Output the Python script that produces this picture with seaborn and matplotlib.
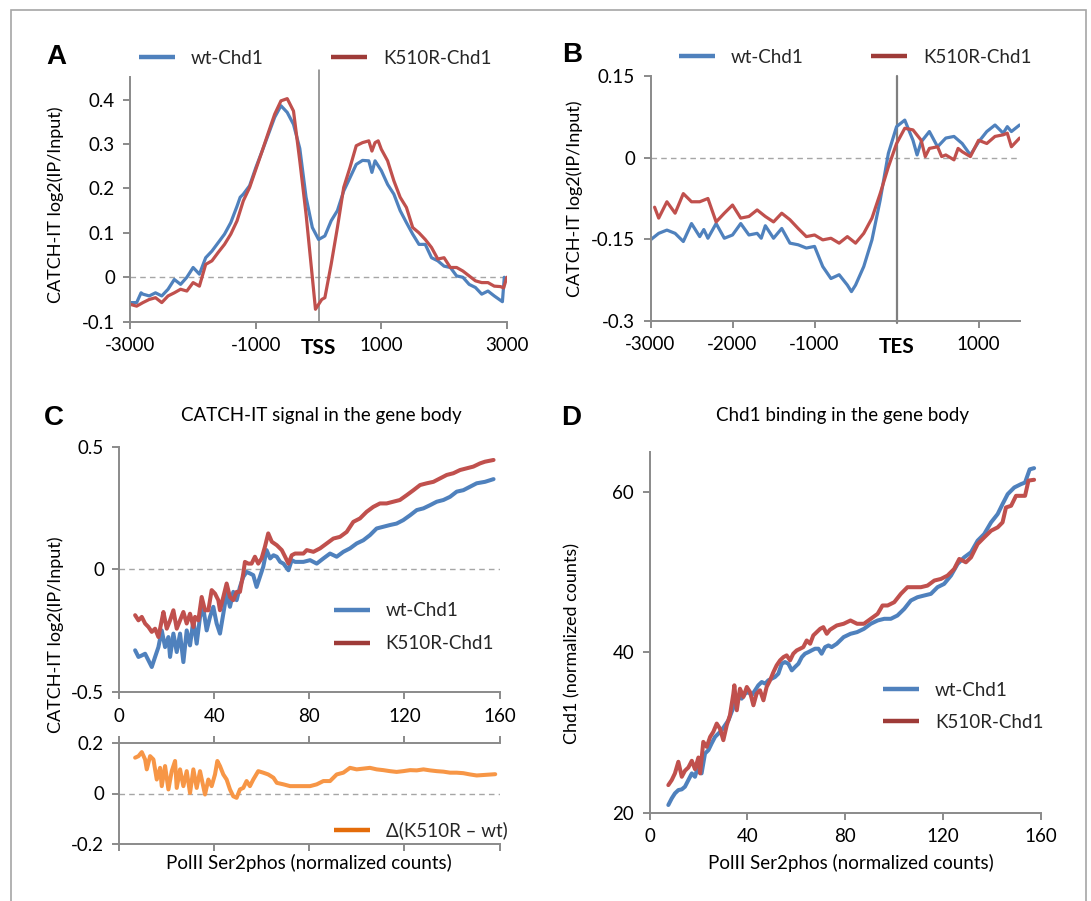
import matplotlib
matplotlib.use("Agg")
import matplotlib.pyplot as plt
import seaborn as sns
import pandas as pd
from matplotlib.lines import Line2D
from matplotlib.patches import Rectangle

# ---------------- data ----------------
# Panel A (around TSS)
a_wt_x = [-3000, -2900, -2830, -2800, -2700, -2600, -2500, -2400, -2300, -2200, -2100, -2000, -1900,
          -1800, -1700, -1600, -1500, -1400, -1300, -1250, -1200, -1100, -1000, -900, -800, -700, -600,
          -500, -400, -300, -200, -100, 0, 100, 200, 300, 400, 500, 600, 700, 800, 850, 900, 1000,
          1100, 1200, 1300, 1400, 1500, 1600, 1700, 1800, 1900, 2000, 2100, 2200, 2300, 2400, 2500,
          2600, 2700, 2800, 2930, 2960]
a_wt_y = [-0.057, -0.057, -0.035, -0.038, -0.042, -0.035, -0.042, -0.027, -0.005, -0.016, 0.0, 0.022,
          0.007, 0.044, 0.059, 0.078, 0.097, 0.123, 0.160, 0.180, 0.187, 0.206, 0.247, 0.284, 0.322,
          0.360, 0.386, 0.371, 0.344, 0.290, 0.180, 0.112, 0.085, 0.093, 0.127, 0.150, 0.194, 0.224,
          0.254, 0.263, 0.262, 0.236, 0.262, 0.240, 0.209, 0.187, 0.150, 0.123, 0.097, 0.074, 0.074,
          0.044, 0.037, 0.025, 0.022, 0.003, 0.0, -0.016, -0.023, -0.038, -0.031, -0.042, -0.055, 0.0]
a_k_x = [-3000, -2900, -2800, -2700, -2600, -2500, -2400, -2300, -2200, -2100, -2000, -1900, -1800,
         -1700, -1600, -1500, -1400, -1300, -1200, -1100, -1000, -900, -800, -700, -600, -500, -400,
         -300, -200, -100, -50, 0, 50, 100, 200, 300, 400, 500, 600, 700, 800, 850, 900, 950, 1000,
         1100, 1200, 1300, 1400, 1500, 1600, 1700, 1800, 1900, 2000, 2100, 2200, 2300, 2400, 2500,
         2600, 2700, 2800, 2900, 2950, 3000]
a_k_y = [-0.061, -0.065, -0.057, -0.050, -0.046, -0.057, -0.042, -0.035, -0.027, -0.031, -0.012, -0.020,
         0.029, 0.037, 0.056, 0.074, 0.097, 0.127, 0.172, 0.202, 0.243, 0.284, 0.326, 0.367, 0.397,
         0.402, 0.374, 0.262, 0.142, 0.0, -0.072, -0.061, -0.050, -0.046, 0.029, 0.112, 0.202, 0.247,
         0.296, 0.303, 0.307, 0.284, 0.303, 0.307, 0.288, 0.262, 0.217, 0.180, 0.157, 0.112, 0.100,
         0.085, 0.067, 0.041, 0.044, 0.022, 0.022, 0.014, 0.003, -0.008, -0.012, -0.012, -0.020,
         -0.021, -0.024, 0.0]

# Panel B (around TES)
b_wt_x = [-3000, -2900, -2800, -2700, -2600, -2500, -2400, -2350, -2300, -2200, -2100, -2000, -1900,
          -1800, -1700, -1650, -1600, -1500, -1400, -1300, -1200, -1100, -1000, -900, -800, -700,
          -600, -550, -500, -400, -300, -200, -100, 0, 100, 200, 250, 300, 400, 500, 600, 700, 800,
          900, 1000, 1100, 1200, 1300, 1350, 1400, 1500]
b_wt_y = [-0.151, -0.139, -0.133, -0.139, -0.154, -0.121, -0.145, -0.132, -0.148, -0.121, -0.148, -0.142,
          -0.121, -0.142, -0.139, -0.148, -0.125, -0.148, -0.130, -0.157, -0.160, -0.166, -0.163,
          -0.200, -0.222, -0.215, -0.234, -0.246, -0.234, -0.200, -0.151, -0.078, 0.008, 0.057, 0.069,
          0.032, 0.005, 0.029, 0.048, 0.020, 0.036, 0.039, 0.026, 0.005, 0.029, 0.048, 0.060, 0.045,
          0.057, 0.048, 0.060]
b_k_x = [-2950, -2900, -2800, -2700, -2600, -2500, -2400, -2300, -2200, -2100, -2000, -1900, -1800,
         -1700, -1600, -1500, -1400, -1300, -1200, -1100, -1000, -900, -800, -700, -600, -500, -400,
         -300, -200, -100, 0, 100, 200, 300, 350, 400, 500, 550, 600, 700, 750, 800, 900, 1000, 1100,
         1200, 1300, 1350, 1400, 1500]
b_k_y = [-0.091, -0.111, -0.081, -0.102, -0.066, -0.081, -0.081, -0.075, -0.118, -0.102, -0.087, -0.111,
         -0.108, -0.096, -0.108, -0.118, -0.102, -0.114, -0.130, -0.145, -0.142, -0.151, -0.148,
         -0.157, -0.145, -0.157, -0.139, -0.111, -0.066, -0.017, 0.026, 0.054, 0.051, 0.032, 0.002,
         0.017, 0.020, 0.002, 0.005, -0.004, 0.017, 0.011, 0.002, 0.032, 0.026, 0.039, 0.042, 0.045,
         0.020, 0.036]

# Panel C (CATCH-IT vs PolII Ser2phos)
c_k_x = [6.7, 8.1, 9.5, 10.9, 12.3, 13.7, 15.1, 16.5, 17.9, 18.6, 20.0, 21.4, 22.8, 24.2, 25.6, 27.0,
         28.4, 29.8, 31.2, 31.9, 33.3, 34.7, 36.1, 37.5, 38.9, 40.3, 41.7, 42.4, 43.8, 45.2, 46.6,
         48.0, 49.4, 50.8, 52.2, 52.9, 54.3, 55.7, 57.1, 58.5, 59.9, 61.3, 62.7, 64.2, 66.3, 68.4,
         69.8, 71.2, 72.6, 74.0, 77.5, 78.9, 81.7, 84.5, 87.3, 90.1, 92.9, 95.7, 98.5, 101.3, 104.1,
         106.9, 109.7, 112.5, 115.3, 118.1, 121.0, 123.8, 126.6, 129.4, 132.2, 135.0, 137.8, 140.6,
         143.4, 146.2, 149.0, 151.8, 153.9, 157.5]
c_k_y = [-0.186, -0.207, -0.193, -0.220, -0.234, -0.254, -0.241, -0.275, -0.207, -0.173, -0.241, -0.207,
         -0.166, -0.241, -0.207, -0.173, -0.220, -0.180, -0.234, -0.193, -0.207, -0.112, -0.166,
         -0.166, -0.084, -0.098, -0.125, -0.166, -0.112, -0.057, -0.112, -0.125, -0.091, -0.091,
         -0.016, 0.031, 0.024, 0.024, 0.052, 0.024, 0.045, 0.092, 0.147, 0.113, 0.099, 0.079, 0.052,
         0.024, 0.058, 0.065, 0.065, 0.079, 0.072, 0.086, 0.106, 0.126, 0.133, 0.153, 0.194, 0.208,
         0.235, 0.255, 0.269, 0.269, 0.276, 0.283, 0.303, 0.323, 0.344, 0.351, 0.357, 0.371, 0.385,
         0.392, 0.405, 0.412, 0.419, 0.432, 0.439, 0.446]
c_wt_x = [6.7, 8.1, 9.5, 10.9, 12.3, 13.7, 15.1, 16.5, 17.9, 19.3, 20.7, 21.4, 22.8, 24.2, 25.6, 27.0,
          28.4, 29.8, 31.2, 32.6, 34.0, 35.4, 36.8, 38.2, 39.6, 41.0, 42.4, 43.8, 45.2, 46.6, 48.0,
          49.4, 50.8, 52.2, 53.6, 55.0, 56.4, 57.8, 59.2, 60.6, 62.0, 63.5, 64.9, 66.3, 67.7, 69.1,
          71.2, 72.6, 74.0, 77.5, 80.3, 83.1, 85.9, 88.7, 91.5, 94.3, 97.1, 99.9, 102.7, 105.5, 108.3,
          111.1, 113.9, 116.7, 119.5, 122.4, 125.2, 128.0, 130.8, 133.6, 136.4, 139.2, 142.0, 144.8,
          147.6, 150.4, 153.9, 157.5]
c_wt_y = [-0.329, -0.356, -0.350, -0.343, -0.370, -0.397, -0.356, -0.316, -0.248, -0.316, -0.275,
          -0.356, -0.261, -0.336, -0.261, -0.377, -0.248, -0.309, -0.207, -0.302, -0.193, -0.159,
          -0.248, -0.193, -0.152, -0.220, -0.261, -0.180, -0.098, -0.152, -0.091, -0.125, -0.071,
          -0.030, -0.010, -0.016, -0.023, -0.071, -0.030, 0.011, 0.079, 0.045, 0.058, 0.052, 0.031,
          0.024, -0.003, 0.038, 0.031, 0.031, 0.038, 0.024, 0.045, 0.065, 0.052, 0.072, 0.086, 0.106,
          0.119, 0.140, 0.167, 0.174, 0.181, 0.187, 0.201, 0.221, 0.242, 0.249, 0.262, 0.276, 0.283,
          0.296, 0.317, 0.323, 0.337, 0.351, 0.357, 0.368]
# Delta (K510R - wt)
d_x = [6.7, 8.1, 9.5, 10.9, 11.6, 13.0, 14.4, 15.8, 17.2, 17.9, 19.3, 20.7, 22.1, 23.5, 24.2, 25.6,
       27.0, 28.4, 29.8, 31.2, 32.6, 34.0, 36.1, 37.5, 38.9, 40.3, 41.3, 42.4, 43.8, 45.2, 46.6,
       48.0, 49.4, 50.8, 52.2, 53.6, 55.0, 56.4, 58.5, 60.6, 62.7, 64.9, 66.3, 69.1, 71.9, 74.7,
       77.5, 80.3, 83.1, 85.9, 88.7, 91.5, 94.3, 97.1, 99.9, 102.7, 105.5, 108.3, 111.1, 113.9,
       116.7, 119.5, 122.4, 125.2, 128.0, 130.8, 133.6, 136.4, 139.2, 142.0, 144.8, 147.6, 150.4,
       158.2]
d_y = [0.141, 0.147, 0.163, 0.134, 0.095, 0.147, 0.134, 0.055, 0.101, 0.029, 0.108, 0.016, 0.088,
       0.128, 0.022, 0.095, 0.029, 0.088, 0.002, 0.095, 0.022, 0.088, -0.004, 0.055, 0.029, 0.075,
       0.128, 0.108, 0.075, 0.055, 0.016, -0.011, -0.017, 0.016, 0.022, 0.049, 0.029, 0.055, 0.088,
       0.082, 0.075, 0.062, 0.042, 0.036, 0.029, 0.029, 0.029, 0.029, 0.036, 0.049, 0.049, 0.075,
       0.082, 0.101, 0.095, 0.098, 0.101, 0.095, 0.092, 0.088, 0.085, 0.088, 0.092, 0.091, 0.095,
       0.091, 0.088, 0.086, 0.082, 0.082, 0.080, 0.075, 0.071, 0.076]

# Panel D (Chd1 binding vs PolII Ser2phos)
dd_k_x = [7.7, 9.1, 10.4, 11.8, 13.2, 14.5, 15.9, 17.3, 18.6, 20.0, 20.7, 22.0, 23.4, 24.8, 26.1, 27.5,
          28.8, 30.2, 31.6, 32.9, 34.3, 34.7, 35.7, 37.0, 38.4, 39.8, 41.1, 42.5, 43.8, 45.2, 46.6,
          47.9, 49.3, 50.7, 52.0, 53.4, 54.8, 56.1, 57.5, 58.8, 60.2, 61.6, 62.9, 64.3, 65.7, 67.0,
          68.4, 69.8, 71.1, 72.5, 73.8, 76.6, 79.4, 82.2, 84.9, 87.7, 90.5, 93.3, 95.3, 97.4, 100.1,
          102.8, 105.5, 108.3, 111.0, 113.7, 116.5, 119.2, 121.9, 124.6, 126.7, 128.1, 129.4, 131.5,
          134.2, 136.9, 139.7, 142.4, 144.4, 145.8, 147.9, 149.9, 151.9, 153.6, 155.0, 157.3]
dd_k_y = [23.44, 24.07, 24.90, 26.35, 24.48, 25.23, 25.64, 26.47, 25.43, 26.88, 24.90, 28.83, 28.21,
          29.45, 30.08, 31.11, 30.49, 29.04, 30.90, 32.15, 34.84, 35.88, 32.77, 35.46, 34.43, 35.67,
          35.05, 33.39, 34.84, 35.26, 34.01, 35.67, 36.50, 37.54, 38.37, 38.99, 39.40, 39.61, 38.99,
          39.82, 40.23, 40.44, 40.64, 41.47, 41.06, 42.10, 42.51, 42.92, 43.13, 42.30, 42.80, 43.34,
          43.55, 43.96, 43.55, 43.55, 44.17, 44.79, 45.83, 45.83, 46.24, 47.28, 48.11, 48.11, 48.11,
          48.31, 48.94, 49.14, 49.56, 50.38, 51.63, 51.42, 51.21, 51.83, 53.49, 54.32, 55.15, 55.57,
          56.19, 58.05, 58.26, 59.50, 59.50, 59.50, 61.40, 61.50]
dd_wt_x = [7.7, 9.1, 10.4, 11.8, 13.2, 14.5, 15.9, 17.3, 18.6, 20.0, 21.3, 22.7, 24.1, 25.4, 26.8, 28.2,
           29.5, 30.9, 32.3, 33.6, 35.0, 36.3, 37.7, 39.1, 40.4, 41.8, 43.2, 44.5, 45.9, 47.3, 48.6,
           50.0, 51.3, 52.7, 54.1, 55.4, 56.8, 58.2, 59.5, 60.9, 62.3, 63.6, 65.0, 66.3, 67.7, 69.1,
           70.4, 71.8, 73.2, 74.5, 76.6, 79.4, 82.2, 84.9, 87.7, 90.5, 93.3, 96.0, 98.7, 101.4, 104.2,
           106.9, 109.6, 112.3, 115.1, 117.8, 120.5, 123.3, 126.0, 128.7, 131.5, 134.2, 136.9, 139.7,
           142.4, 144.4, 146.5, 149.2, 151.9, 153.6, 155.5, 157.3]
dd_wt_y = [20.96, 21.79, 22.41, 22.82, 22.91, 23.24, 24.07, 24.90, 24.48, 25.93, 24.90, 27.38, 27.80,
           28.63, 29.45, 29.87, 30.28, 30.90, 31.53, 32.56, 33.60, 34.43, 34.22, 34.84, 35.05, 34.64,
           35.26, 35.88, 36.29, 36.09, 36.50, 36.71, 36.91, 37.33, 38.57, 38.78, 38.57, 37.74, 38.16,
           38.57, 39.40, 39.82, 40.02, 40.23, 40.44, 40.44, 39.82, 40.64, 40.85, 40.64, 41.06, 41.89,
           42.30, 42.51, 42.92, 43.55, 43.96, 44.17, 44.17, 44.58, 45.41, 46.45, 46.86, 47.07, 47.28,
           48.11, 48.52, 49.56, 51.01, 51.83, 52.46, 53.91, 54.74, 56.19, 57.23, 58.47, 59.71, 60.54,
           60.95, 61.16, 62.80, 62.95]

series_names = ["wt-Chd1", "K510R-Chd1"]
delta_name = "\u0394(K510R \u2013 wt)"
a_xticks = [-3000, -1000, 1000, 3000]
b_xticks = [-3000, -2000, -1000, 1000]
a_yticks = [-0.1, 0, 0.1, 0.2, 0.3, 0.4]
b_yticks = [-0.3, -0.15, 0, 0.15]
c_yticks = [-0.5, 0, 0.5]
delta_yticks = [-0.2, 0, 0.2]
d_yticks = [20, 40, 60]
cnt_xticks = [0, 40, 80, 120, 160]

# ---------------- style ----------------
sns.set_theme(style="white")
plt.rcParams['font.family'] = ['Lato', 'DejaVu Sans']

BLUE = '#4F81BD'
RED = '#C0504D'
RED_LEG = '#9E3B38'
ORANGE = '#F79646'
ORANGE_LEG = '#E46C0A'
GRAY = '#8A8A8A'
ZGRAY = '#A6A6A6'
FS = 13.5

W, H = 1091, 901
fig = plt.figure(figsize=(W / 100, H / 100), dpi=100)
fig.patch.set_facecolor('white')


def add_ax(l, t, r, b):
    return fig.add_axes([l / W, 1 - b / H, (r - l) / W, (b - t) / H])


def ftext(x, y, s, **kw):
    fig.text(x / W, 1 - y / H, s, **kw)


def style(ax, top=False):
    sns.despine(ax=ax, top=not top, right=True)
    for s in ['left', 'bottom', 'top']:
        ax.spines[s].set_color(GRAY)
        ax.spines[s].set_linewidth(1.4)
    ax.tick_params(axis='both', which='both', direction='out', length=5, width=1.4, color=GRAY,
                   labelsize=FS, labelcolor='black', pad=6, left=True, bottom=True)
    ax.set_xlabel('')
    ax.set_ylabel('')
    ax.set_facecolor('none')


def fmt(v):
    return '%g' % v


def line(ax, xs, ys, color, lw):
    df = pd.DataFrame({'x': xs, 'y': ys})
    sns.lineplot(data=df, x='x', y='y', color=color, lw=lw, ax=ax, estimator=None, sort=False,
                 legend=False)


frame = Rectangle((11 / W, -0.02), (1086 - 11) / W, 1 - 10 / H + 0.02, transform=fig.transFigure,
                  fill=False, edgecolor='#A6A6A6', lw=1.2)
fig.add_artist(frame)

# ---------------- Panel A ----------------
axA = add_ax(130.4, 77.3, 506.8, 321.7)
axA.axhline(0, color=ZGRAY, lw=1, ls=(0, (4, 3)), zorder=1)
axA.axvline(0, ymin=0, ymax=1.03, color='#7F7F7F', lw=1.1, clip_on=False, zorder=1)
line(axA, a_wt_x, a_wt_y, BLUE, 2.3)
line(axA, a_k_x, a_k_y, RED, 2.3)
style(axA)
axA.set_xlim(-3000, 3000)
axA.set_ylim(-0.1, 0.45)
axA.set_yticks(a_yticks, [fmt(v) for v in a_yticks])
axA.set_xticks(a_xticks, [fmt(v) for v in a_xticks])
axA.text(0, -0.109, "TSS", transform=axA.get_xaxis_transform(), ha='center', va='center',
         fontsize=15, fontweight='bold', color='black')

# ---------------- Panel B ----------------
axB = add_ax(650.5, 76, 1019.6, 321)
axB.axhline(0, color=ZGRAY, lw=1, ls=(0, (4, 3)), zorder=1)
axB.axvline(0, ymin=-0.01, ymax=1, color='#7F7F7F', lw=1.6, clip_on=False, zorder=1)
line(axB, b_wt_x, b_wt_y, BLUE, 2.3)
line(axB, b_k_x, b_k_y, RED, 2.3)
style(axB)
axB.set_xlim(-3000, 1500)
axB.set_ylim(-0.3, 0.15)
axB.set_yticks(b_yticks, [fmt(v) for v in b_yticks])
axB.set_xticks(b_xticks, [fmt(v) for v in b_xticks])
axB.text(0, -0.105, "TES", transform=axB.get_xaxis_transform(), ha='center', va='center',
         fontsize=15, fontweight='bold', color='black')

# ---------------- Panel C (top) ----------------
axC = add_ax(119.2, 446.7, 499.5, 692.3)
axC.axhline(0, color=ZGRAY, lw=1, ls=(0, (4, 3)), zorder=1)
line(axC, c_wt_x, c_wt_y, BLUE, 2.9)
line(axC, c_k_x, c_k_y, RED, 2.9)
style(axC)
axC.set_xlim(0, 160)
axC.set_ylim(-0.5, 0.5)
axC.set_yticks(c_yticks, [fmt(v) for v in c_yticks])
axC.set_xticks(cnt_xticks, [fmt(v) for v in cnt_xticks])

# ---------------- Panel C (bottom) ----------------
axE = add_ax(119.2, 742.7, 499.5, 844.3)
axE.axhline(0, color=ZGRAY, lw=1, ls=(0, (4, 3)), zorder=1)
line(axE, d_x, d_y, ORANGE, 2.9)
style(axE, top=True)
axE.tick_params(top=True, labeltop=False, labelbottom=False)
axE.set_xlim(0, 160)
axE.set_ylim(-0.2, 0.2)
axE.set_yticks(delta_yticks, [fmt(v) for v in delta_yticks])
axE.set_xticks(cnt_xticks)

# ---------------- Panel D ----------------
axD = add_ax(649.5, 451.7, 1040.7, 812.7)
line(axD, dd_wt_x, dd_wt_y, BLUE, 2.9)
line(axD, dd_k_x, dd_k_y, RED, 2.9)
style(axD)
axD.set_xlim(0, 160)
axD.set_ylim(20, 65)
axD.set_yticks(d_yticks, [fmt(v) for v in d_yticks])
axD.set_xticks(cnt_xticks, [fmt(v) for v in cnt_xticks])

# ---------------- legends ----------------
def handles(colors):
    return [Line2D([], [], color=c, lw=3.2, solid_capstyle='butt') for c in colors]


leg_kw = dict(frameon=False, fontsize=FS, handlelength=1.92, handletextpad=0.85, borderpad=0,
              borderaxespad=0)
fig.legend(handles([BLUE, RED_LEG]), series_names, loc='center left',
           bbox_to_anchor=(139 / W, 1 - 58.3 / H), ncol=2, columnspacing=3.6, **leg_kw)
fig.legend(handles([BLUE, RED_LEG]), series_names, loc='center left',
           bbox_to_anchor=(679 / W, 1 - 57.3 / H), ncol=2, columnspacing=3.6, **leg_kw)
fig.legend(handles([BLUE, RED_LEG]), series_names, loc='center left',
           bbox_to_anchor=(333.7 / W, 1 - 627.2 / H), ncol=1, labelspacing=0.85, **leg_kw)
fig.legend(handles([ORANGE_LEG]), [delta_name], loc='center left',
           bbox_to_anchor=(334 / W, 1 - 830.7 / H), ncol=1, **leg_kw)
fig.legend(handles([BLUE, RED_LEG]), series_names, loc='center left',
           bbox_to_anchor=(883 / W, 1 - 706.3 / H), ncol=1, labelspacing=0.8, **leg_kw)

# ---------------- texts ----------------
lab_kw = dict(fontsize=13, color='black', rotation=90, ha='center', va='center')
ftext(55.6, 204.5, "CATCH-IT log2(IP/Input)", **lab_kw)
ftext(575, 199, "CATCH-IT log2(IP/Input)", **lab_kw)
ftext(55.5, 635, "CATCH-IT log2(IP/Input)", **lab_kw)
ftext(572.8, 643, "Chd1 (normalized counts)", **lab_kw)

ttl_kw = dict(fontsize=13.5, color='black', ha='center', va='center')
ftext(321, 416, "CATCH-IT signal in the gene body", **ttl_kw)
ftext(843, 416, "Chd1 binding in the gene body", **ttl_kw)
ftext(309, 863.3, "PolII Ser2phos (normalized counts)", **ttl_kw)
ftext(851, 863.3, "PolII Ser2phos (normalized counts)", **ttl_kw)

let_kw = dict(fontsize=20, fontweight='bold', family='Liberation Sans', ha='center', va='center',
              color='black')
ftext(56.5, 56.7, "A", **let_kw)
ftext(572, 55, "B", **let_kw)
ftext(53.5, 417.7, "C", **let_kw)
ftext(571.6, 417.7, "D", **let_kw)

fig.savefig("out.png", dpi=100, facecolor='white')
